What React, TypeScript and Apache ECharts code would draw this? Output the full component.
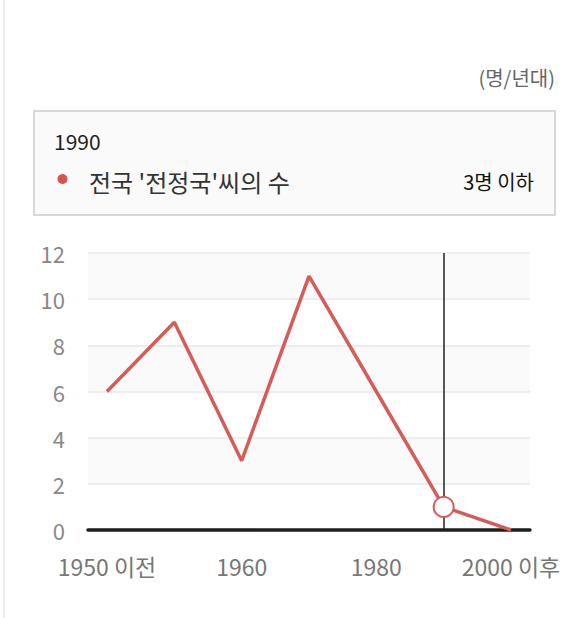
import React, { useEffect, useRef } from "react";
import * as echarts from "echarts";

const categories = ["1950 이전", "1950", "1960", "1970", "1980", "1990", "2000 이후"];
const values = [6, 9, 3, 11, 6, 1, 0];
const seriesName = "전국 '전정국'씨의 수";
const unitText = "(명/년대)";
const selectedCategory = "1990";
const selectedValueText = "3명 이하";
const yTicks = { min: 0, max: 12, interval: 2 };

const FONT = "'Noto Sans CJK KR', 'Noto Sans', sans-serif";
const RED = "#d65c58";

export default function App() {
  const ref = useRef<HTMLDivElement>(null);
  useEffect(() => {
    if (!ref.current) return;
    const chart = echarts.init(ref.current, undefined, { renderer: "svg" });
    const selIdx = categories.indexOf(selectedCategory);
    chart.setOption({
      animation: false,
      textStyle: { fontFamily: FONT },
      grid: [
        { left: 88, top: 253, width: 442, height: 277 },
        { left: 107, top: 253, width: 404, height: 277 },
      ],
      xAxis: [
        {
          gridIndex: 0,
          type: "value",
          min: 0,
          max: 1,
          axisLine: { show: true, lineStyle: { color: "#1e1e1e", width: 3.5 } },
          axisTick: { show: false },
          axisLabel: { show: false },
          splitLine: { show: false },
        },
        {
          gridIndex: 1,
          type: "category",
          data: categories,
          boundaryGap: false,
          axisLine: { show: false },
          axisTick: { show: false },
          splitLine: { show: false },
          axisLabel: {
            interval: 1,
            fontSize: 23,
            color: "#777777",
            margin: 24,
            fontFamily: FONT,
          },
        },
      ],
      yAxis: [
        {
          gridIndex: 0,
          type: "value",
          min: yTicks.min,
          max: yTicks.max,
          interval: yTicks.interval,
          axisLine: { show: false },
          axisTick: { show: false },
          axisLabel: { fontSize: 22, color: "#888888", margin: 23, fontFamily: FONT },
          splitLine: { show: true, lineStyle: { color: "#e8e8e8", width: 1.5 } },
          splitArea: { show: true, areaStyle: { color: ["#ffffff", "#fafafa"] } },
        },
        {
          gridIndex: 1,
          type: "value",
          min: yTicks.min,
          max: yTicks.max,
          interval: yTicks.interval,
          show: false,
        },
      ],
      series: [
        {
          name: seriesName,
          type: "line",
          xAxisIndex: 1,
          yAxisIndex: 1,
          z: 3,
          symbol: "none",
          lineStyle: { color: RED, width: 3.5 },
          itemStyle: { color: RED },
          data: values.map((v, i) =>
            i === selIdx
              ? {
                  value: v,
                  symbol: "circle",
                  symbolSize: 20,
                  itemStyle: { color: "#ffffff", borderColor: RED, borderWidth: 2 },
                }
              : v
          ),
          markLine: {
            z: 1,
            silent: true,
            symbol: ["none", "none"],
            label: { show: false },
            lineStyle: { color: "#222222", width: 1.5, type: "solid" },
            data: [{ xAxis: selectedCategory }],
          },
        },
      ],
      graphic: [
        {
          type: "line",
          shape: { x1: 4, y1: 0, x2: 4, y2: 618 },
          style: { stroke: "#efefef", lineWidth: 2 },
        },
        {
          type: "text",
          x: 555,
          y: 77,
          style: {
            text: unitText,
            fontSize: 20,
            fill: "#666666",
            textAlign: "right",
            textVerticalAlign: "middle",
            fontFamily: FONT,
          },
        },
        {
          type: "rect",
          shape: { x: 34, y: 111, width: 521, height: 104 },
          style: { fill: "#fafafa", stroke: "#cccccc", lineWidth: 1.5 },
        },
        {
          type: "text",
          x: 54,
          y: 141,
          style: {
            text: selectedCategory,
            fontSize: 21,
            fill: "#222222",
            textVerticalAlign: "middle",
            fontFamily: FONT,
          },
        },
        {
          type: "circle",
          shape: { cx: 62.5, cy: 179, r: 5 },
          style: { fill: "#d9534f" },
        },
        {
          type: "text",
          x: 89,
          y: 181,
          style: {
            text: seriesName,
            fontSize: 24,
            fill: "#333333",
            textVerticalAlign: "middle",
            fontFamily: FONT,
          },
        },
        {
          type: "text",
          x: 534,
          y: 181,
          style: {
            text: selectedValueText,
            fontSize: 20,
            fontWeight: "normal",
            fill: "#111111",
            textAlign: "right",
            textVerticalAlign: "middle",
            fontFamily: FONT,
          },
        },
      ],
    });
    return () => chart.dispose();
  }, []);
  return (
    <div
      ref={ref}
      style={{ position: "fixed", left: 0, top: 0, width: 583, height: 618, background: "#ffffff" }}
    />
  );
}
